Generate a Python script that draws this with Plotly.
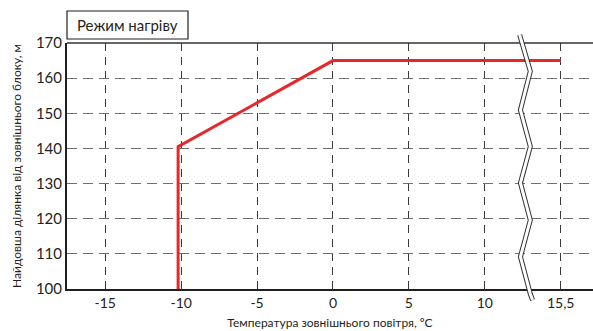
import plotly.graph_objects as go

# Data
temps = [-10.2, -10.2, 0, 15.5]          # outdoor temperature, °C
lengths = [100, 140.5, 165, 165]         # longest run, m
x_tickvals = [-15, -10, -5, 0, 5, 10, 15.5]
x_ticktext = ["-15", "-10", "-5", "0", "5", "10", "15,5"]
y_ticks = [100, 110, 120, 130, 140, 150, 160, 170]

BREAK_FROM = 15.5   # values beyond the axis break are drawn one half-unit earlier
BREAK_SHIFT = 0.5

def pos(v):
    return v - BREAK_SHIFT if v >= BREAK_FROM else v

FONT = "Lato"

fig = go.Figure()
fig.add_trace(go.Scatter(
    x=[pos(t) for t in temps], y=lengths, mode="lines",
    line=dict(color="#e8262b", width=3), cliponaxis=False,
    showlegend=False, hoverinfo="skip"))

fig.update_layout(
    width=593, height=331,
    margin=dict(l=67, r=0, t=43, b=42, autoexpand=False),
    paper_bgcolor="white", plot_bgcolor="white",
    font=dict(family=FONT, size=14, color="#231f20"),
    xaxis=dict(
        range=[-17.52, 17.13], automargin=False,
        tickvals=[pos(v) for v in x_tickvals], ticktext=x_ticktext,
        showgrid=True, gridcolor="#3a3a3a", griddash="8px,6px", gridwidth=1,
        zeroline=False, showline=True, linecolor="#231f20", linewidth=2,
        mirror=False, ticks="", tickfont=dict(size=14),
        title=dict(text="Температура зовнішнього повітря, ºC",
                   font=dict(size=12), standoff=9),
    ),
    yaxis=dict(
        range=[100, 170], tickvals=y_ticks, automargin=False,
        showgrid=True, gridcolor="#6e6e6e", griddash="10px,6px", gridwidth=1.2,
        zeroline=False, showline=True, linecolor="#231f20", linewidth=2,
        ticks="", tickfont=dict(size=15),
        title=dict(text="Найдовша ділянка від зовнішнього блоку, м",
                   font=dict(size=12), standoff=12),
    ),
)

# top border line
fig.add_shape(type="line", xref="paper", yref="paper", x0=0, x1=1, y0=1, y1=1,
              line=dict(color="#333333", width=1.5))

# axis break zigzag (double line)
zx = [12.3, 13.0, 12.35, 13.0, 12.35, 13.0, 12.35, 13.0, 13.15]
zy = [1.033, 0.885, 0.728, 0.579, 0.431, 0.280, 0.131, -0.02, -0.045]
path = "M " + " L ".join(f"{a},{b}" for a, b in zip(zx, zy))
fig.add_shape(type="path", path=path, xref="x", yref="paper",
              line=dict(color="#333333", width=5), layer="above")
fig.add_shape(type="path", path=path, xref="x", yref="paper",
              line=dict(color="white", width=3), layer="above")

# title box
fig.add_shape(type="rect", xref="paper", yref="paper",
              x0=0, x1=(188 - 67) / 526, y0=1 + 4 / 246, y1=1 + 32 / 246,
              line=dict(color="#231f20", width=1.2), fillcolor="white")
fig.add_annotation(text="Режим нагріву", xref="paper", yref="paper",
                   x=(127.5 - 67) / 526, y=1 + 18 / 246, showarrow=False,
                   font=dict(size=15, family=FONT, color="#231f20"),
                   xanchor="center", yanchor="middle")

fig.write_html("out.html", config={"displayModeBar": False},
               post_script="document.body.style.margin='0';document.body.style.overflow='hidden';")
